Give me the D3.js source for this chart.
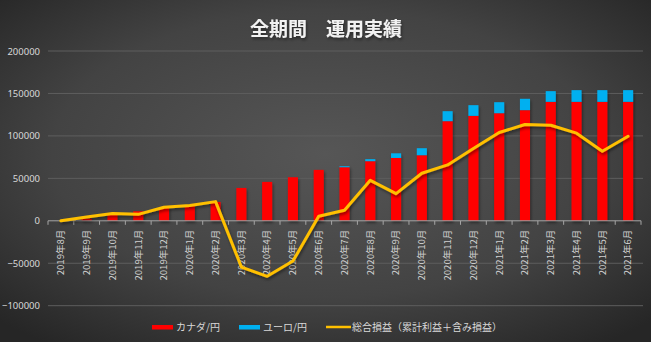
<!DOCTYPE html>
<html>
<head>
<meta charset="utf-8">
<script src="https://cdn.jsdelivr.net/npm/d3@7"></script>
<style>
  html, body { margin: 0; padding: 0; background: #2b2b2b; }
  svg { display: block; font-family: "Noto Sans CJK JP", "Noto Sans", sans-serif; }
</style>
</head>
<body>
<svg id="chart" width="651" height="342"></svg>
<script>
// Monthly categories
const months = ["2019年8月","2019年9月","2019年10月","2019年11月","2019年12月",
  "2020年1月","2020年2月","2020年3月","2020年4月","2020年5月","2020年6月",
  "2020年7月","2020年8月","2020年9月","2020年10月","2020年11月","2020年12月",
  "2021年1月","2021年2月","2021年3月","2021年4月","2021年5月","2021年6月"];

// Invested amount: CAD/JPY (stack bottom)
const cadJpy = [0, 2600, 7600, 11200, 16300, 18300, 22200, 38700, 45800, 51300, 60000,
  63100, 70200, 74000, 77200, 117300, 123600, 126700, 130300, 140100, 140100, 140100, 140100];

// Invested amount: EUR/JPY (stack top)
const eurJpy = [0, 0, 0, 0, 0, 0, 0, 0, 0, 0, 0,
  1200, 2400, 5500, 8300, 11800, 12600, 13000, 13400, 12600, 13800, 13800, 13800];

// Total P/L (realized + unrealized)
const totalPL = [0, 4500, 8500, 7600, 15900, 17900, 22600, -54500, -65400, -47400, 5300,
  12400, 47700, 32000, 56000, 65800, 85100, 104000, 113400, 112600, 103200, 82000, 99600];

const yTicks = [200000, 150000, 100000, 50000, 0, -50000, -100000];

const seriesNames = ["カナダ/円", "ユーロ/円", "総合損益（累計利益＋含み損益）"];
const seriesColors = ["#FF0000", "#00B0F0", "#FFC000"];

const FONT = "'Noto Sans CJK JP', 'Noto Sans', sans-serif";
const W = 651, H = 342;
const svg = d3.select("#chart");
const defs = svg.append("defs");

// Dark radial background
const bg = defs.append("radialGradient").attr("id", "bg")
  .attr("cx", "50%").attr("cy", "45%").attr("r", "70%");
bg.append("stop").attr("offset", "0%").attr("stop-color", "#565656");
bg.append("stop").attr("offset", "60%").attr("stop-color", "#434343");
bg.append("stop").attr("offset", "100%").attr("stop-color", "#262626");
svg.append("rect").attr("width", W).attr("height", H).attr("fill", "url(#bg)");

const shadow = defs.append("filter").attr("id", "shadow")
  .attr("x", "-20%").attr("y", "-20%").attr("width", "140%").attr("height", "140%");
shadow.append("feDropShadow").attr("dx", 1).attr("dy", 2).attr("stdDeviation", 1.5)
  .attr("flood-color", "#000").attr("flood-opacity", 0.45);

const x = d3.scaleBand().domain(months).range([48, 641]).paddingInner(0.61).paddingOuter(0.305);
const xOuter = d3.scaleBand().domain(months).range([48, 641]);
const y = d3.scaleLinear().domain([-100000, 200000]).range([305.7, 51]);

// Title
svg.append("text").attr("x", 326).attr("y", 36).attr("text-anchor", "middle")
  .attr("fill", "#f2f2f2").attr("font-size", 19).attr("font-weight", 700)
  .attr("font-family", FONT)
  .attr("filter", "url(#shadow)")
  .text("全期間　運用実績");

// Gridlines
svg.append("g").selectAll("line").data(yTicks.filter(d => d !== 0)).join("line")
  .attr("x1", 48).attr("x2", 643)
  .attr("y1", d => y(d)).attr("y2", d => y(d))
  .attr("stroke", "#5e5e5e").attr("stroke-width", 1);

// Y axis labels
const yAxis = d3.axisLeft(y).tickValues(yTicks).tickSize(0).tickPadding(0).tickFormat(d3.format("d"));
const gy = svg.append("g").attr("transform", "translate(40,0)").call(yAxis);
gy.select(".domain").remove();
gy.selectAll("text").attr("fill", "#d9d9d9").attr("font-size", 9.5)
  .attr("font-family", "'Noto Sans', sans-serif");

// Stacked bars
const stackData = months.map((m, i) => ({ month: m, cad: cadJpy[i], eur: eurJpy[i] }));
const stacked = d3.stack().keys(["cad", "eur"])(stackData);
const gBars = svg.append("g").attr("filter", "url(#shadow)");
gBars.selectAll("g").data(stacked).join("g")
  .attr("fill", (d, i) => seriesColors[i])
  .selectAll("rect").data(d => d).join("rect")
  .attr("x", d => x(d.data.month))
  .attr("width", x.bandwidth())
  .attr("y", d => y(d[1]))
  .attr("height", d => Math.max(0, y(d[0]) - y(d[1])));

// Category axis at zero
const xAxis = d3.axisBottom(xOuter).tickSize(0).tickFormat(d => d);
const gx = svg.append("g").attr("transform", `translate(0,${y(0)})`).call(xAxis);
gx.select(".domain").attr("stroke", "#a6a6a6").attr("stroke-width", 1)
  .attr("d", `M48,0H641`);
gx.selectAll(".tick line").remove();
gx.selectAll(".bound").data(d3.range(months.length + 1)).join("line")
  .attr("class", "bound")
  .attr("x1", i => 48 + i * xOuter.step()).attr("x2", i => 48 + i * xOuter.step())
  .attr("y1", 0).attr("y2", 4).attr("stroke", "#a6a6a6");
gx.selectAll(".tick text")
  .attr("fill", "#d0d0d0").attr("font-size", 9.5).attr("font-family", FONT)
  .attr("transform", "translate(0,9) rotate(-90)")
  .attr("text-anchor", "end").attr("dy", "0.35em").attr("x", 0).attr("y", 0);

// Total P/L line
const line = d3.line().x((d, i) => xOuter(months[i]) + xOuter.bandwidth() / 2).y(d => y(d));
svg.append("path").datum(totalPL)
  .attr("d", line).attr("fill", "none")
  .attr("stroke", seriesColors[2]).attr("stroke-width", 3)
  .attr("stroke-linejoin", "round").attr("stroke-linecap", "round")
  .attr("filter", "url(#shadow)");

// Legend
const legend = svg.append("g").attr("font-size", 10).attr("font-family", FONT);
const lx = [152, 239, 326];
lx.forEach((px, i) => {
  if (i < 2) {
    legend.append("rect").attr("x", px).attr("y", 325).attr("width", 21).attr("height", 4.5)
      .attr("fill", seriesColors[i]);
  } else {
    legend.append("line").attr("x1", px).attr("x2", px + 25).attr("y1", 327).attr("y2", 327)
      .attr("stroke", seriesColors[i]).attr("stroke-width", 2.5);
  }
  legend.append("text").attr("x", px + (i < 2 ? 24 : 26)).attr("y", 331)
    .attr("fill", "#d9d9d9").text(seriesNames[i]);
});
</script>
</body>
</html>
